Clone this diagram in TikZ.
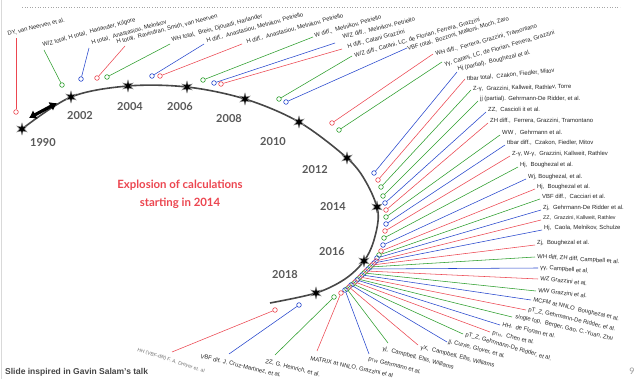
\documentclass[tikz,border=0pt]{standalone}
\usepackage{fontspec}
\setmainfont{Liberation Sans}
\newfontfamily\latofont{Lato}
\usetikzlibrary{shapes.geometric,arrows.meta}

\definecolor{calcred}{RGB}{236,70,80}
\definecolor{calcgreen}{RGB}{44,158,44}
\definecolor{calcblue}{RGB}{38,70,205}

% one calculation: name, colour, ring, line end, label, angle, text
\newcommand{\calcleg}[7]{%
  \node[ring, draw=#2] (#1c) at (#3) {};
  \coordinate (#1e) at (#4);
  \node[calclabel, rotate=#6] (#1t) at (#5) {#7};
  \draw[#2, leg] (#1c) -- (#1e);
}

\begin{document}
\begin{tikzpicture}[x=1pt,y=-1pt]
\tikzstyle{ring}=[circle, inner sep=0pt, minimum size=4.6pt, line width=0.6pt]
\tikzstyle{calclabel}=[anchor=base west, inner sep=0pt, font=\fontsize{5.9}{7}\selectfont, text=black!85]
\tikzstyle{leg}=[line width=0.55pt]
\tikzstyle{yr}=[font=\latofont\bfseries\fontsize{11}{13}\selectfont, text=black!65]
\tikzstyle{yrstar}=[star, star points=6, star point ratio=2.6, fill=black, draw=black!45, line width=0.4pt, inner sep=0pt, minimum size=12pt]
\useasboundingbox (0,0) rectangle (638,379);
\fill[white] (0,0) rectangle (638,379);
\draw[black!15, line width=1pt] (1.5,0) -- (1.5,379);
\draw[black!35, dotted, line width=0.6pt] (22,7) -- (620,7);

% the time line
\draw[black!72, line width=1.6pt] plot[smooth, tension=0.55] coordinates {(22,129) (71,97) (128,86) (187,87) (245,99) (299,122) (347,158) (366,182) (378,212) (374,240) (364,261) (345,279) (316,293) (270,303)};
\coordinate (arrA) at (29,118);
\coordinate (arrB) at (57,103);
\draw[line width=3.2pt, {Latex[length=7pt,width=10pt]}-{Latex[length=7pt,width=10pt]}] (arrA) -- (arrB);

\node[yrstar] (s1990) at (22,129) {};
\node[yrstar] (s2002) at (71,97) {};
\node[yrstar] (s2004) at (128,86) {};
\node[yrstar] (s2006) at (187,87) {};
\node[yrstar] (s2008) at (245,99) {};
\node[yrstar] (s2010) at (299,122) {};
\node[yrstar] (s2012) at (347,158) {};
\node[yrstar] (s2014) at (377,207) {};
\node[yrstar] (s2016) at (364,261) {};
\node[yrstar] (s2018) at (316,293) {};

\node[yr] (y1990) at (43,143) {1990};
\node[yr] (y2002) at (80,116) {2002};
\node[yr] (y2004) at (130,107) {2004};
\node[yr] (y2006) at (180,107) {2006};
\node[yr] (y2008) at (229,119) {2008};
\node[yr] (y2010) at (273,142) {2010};
\node[yr] (y2012) at (315,170) {2012};
\node[yr] (y2014) at (333,207) {2014};
\node[yr] (y2016) at (332,252) {2016};
\node[yr] (y2018) at (285,275) {2018};

\node[align=center, text=calcred, font=\latofont\bfseries\fontsize{11.4}{18}\selectfont] (boom) at (180,194) {Explosion of calculations\\starting in 2014};

% top
\calcleg{dy}{calcred}{16,112}{16,38}{8,36}{14}{DY, van Neerven et al.}
\calcleg{wzt}{calcgreen}{62,85}{44,50}{43,47}{15.5}{W/Z total, H total,\ \ Harlander, Kilgore}
\calcleg{hta}{calcblue}{81,79}{89,48}{92,45}{16}{H total,\ \ Anastasiou, Melnikov}
\calcleg{htr}{calcred}{97,78}{125,46}{117,44}{14.5}{H total,\ \ Ravindran, Smith, van Neerven}
\calcleg{wht}{calcgreen}{107,77}{170,44}{172,42}{15}{WH total,\ \ Brein, Djouadi, Harlander}
\calcleg{hda}{calcblue}{152,76}{204,44}{207,43}{15.5}{H diff.,\ \ Anastasiou, Melnikov, Petriello}
\calcleg{hdb}{calcred}{160,76}{242,44}{247,44}{15.5}{H diff.,\ \ Anastasiou, Melnikov, Petriello}
\calcleg{wd}{calcgreen}{203,80}{313,37}{315,37.5}{15.5}{W diff.,\ \ Melnikov, Petriello}
\calcleg{wzd}{calcblue}{214,83}{335,43}{343,39}{14}{W/Z diff.,\ \ Melnikov, Petriello}
\calcleg{hdc}{calcred}{221,84}{342,49}{348,48.5}{15}{H diff., Catani Grazzini}
\calcleg{wzc}{calcgreen}{279,99}{352,56}{355,57.5}{16}{W/Z diff., Catani, LC, de Florian, Ferrera, Grazzini}
\calcleg{vbft}{calcblue}{286,102}{407,48}{408,51}{17}{VBF total,\ \ Bozzoni, Maltoni, Moch, Zaro}
\calcleg{whd}{calcred}{332,123}{433,54}{436,56}{15.5}{WH diff.,\ \ Ferrera, Grazzini, Tramontano}
\calcleg{gga}{calcgreen}{339,130}{442,62}{445,66}{16}{γγ, Catani, LC, de Florian, Ferrera, Grazzini}
\calcleg{hjp}{calcblue}{374,173}{457,72}{458,71}{13}{Hj (partial),\ \ Boughezal et al.}
\calcleg{ttt}{calcred}{378,180}{465,79}{467,81}{5.5}{ttbar total,\ \ Czakon, Fiedler, Mitov}
\calcleg{zga}{calcgreen}{381,187}{471,90}{473,91}{1.5}{Z-γ,\ \ Grazzini, Kallweit, Rathlev, Torre}

% right
\calcleg{jjp}{calcgreen}{383,196}{478,101}{480,101}{0}{jj (partial). Gehrmann-De Ridder, et al.}
\calcleg{zzc}{calcblue}{385,203}{486,112}{488,112}{0}{ZZ,\ \ Cascioli it et al.}
\calcleg{zhd}{calcred}{386,210}{488,123}{490,123}{0}{ZH diff.,\ \ Ferrera, Grazzini, Tramontano}
\calcleg{wwg}{calcgreen}{386,217}{500,135}{502,135}{0}{WW ,\ \ Gehrmann et al.}
\calcleg{ttd}{calcblue}{386,224}{505,145}{507,145}{0}{ttbar diff.,\ \ Czakon, Fiedler, Mitov}
\calcleg{zwg}{calcred}{385,231}{510,156}{512,156}{0}{Z-γ, W-γ,\ \ Grazzini, Kallweit, Rathlev}
\calcleg{hja}{calcgreen}{384,238}{518,167}{520,167}{0}{Hj,\ \ Boughezal et al.}
\calcleg{wjb}{calcblue}{383,245}{526,179}{528,179}{0}{Wj, Boughezal, et al.}
\calcleg{hjb}{calcred}{381,251}{535,189}{537,189}{0}{Hj,\ \ Boughezal et al.}
\calcleg{vbfd}{calcgreen}{379,255}{540,199}{542,199}{0}{VBF diff.,\ \ Cacciari et al.}
\calcleg{zja}{calcblue}{377,258}{541,210}{543,210}{0}{Zj,\ \ Gehrmann-De Ridder et al.}
\calcleg{zzg}{calcred}{376,261}{541,220}{543,220}{0}{\fontsize{5.3}{6}\selectfont ZZ,\ \ Grazzini, Kallweit, Rathlev}
\calcleg{hjc}{calcblue}{374,263}{542,230}{544,230}{0}{Hj,\ \ Caola, Melnikov, Schulze}
\calcleg{zjb}{calcred}{372,265}{535,245}{537,245}{0}{Zj,\ \ Boughezal et al.}
\calcleg{vhd}{calcgreen}{370,267}{535,257}{537,258}{-4}{WH diff, ZH diff, Campbell et al.}
\calcleg{ggb}{calcblue}{368,269}{538,268}{540,269}{-5}{γγ, Campbell et al.}
\calcleg{wzg}{calcred}{366,271}{538,279}{540,280}{-7}{WZ Grazzini et al.}
\calcleg{wwz}{calcgreen}{364,273}{536,291}{538,292}{-7}{WW Grazzini et al.}
\calcleg{mcfm}{calcblue}{362,275}{531,300}{533,301}{-13}{MCFM at NNLO\ \ Boughezal et al.}
\calcleg{ptza}{calcred}{360,277}{526,310}{528,311}{-13}{pT\_Z, Gehrmann-De Ridder, et al.}
\calcleg{stop}{calcgreen}{358,279}{512,317}{515,318}{-13}{single top,\ \ Berger, Gao, C.-Yuan, Zhu}
\calcleg{hhf}{calcblue}{357,280}{500,325}{502,326}{-13}{HH,\ \ de Florian et al.}
\calcleg{pth}{calcred}{355,282}{490,332}{492,334}{-14}{p\textsubscript{TH},\ \ Chen et al.}
\calcleg{ptzb}{calcgreen}{353,284}{463,334}{465,336}{-16}{pT\_Z, Gehrmann-De Ridder, et al.}
\calcleg{jjc}{calcblue}{351,285}{447,342}{448,343}{-15}{jj, Currie, Glover, et al.}
\calcleg{gx}{calcred}{349,287}{418,345}{420,349}{-14}{γX,\ \ Campbell, Ellis, Williams}

% bottom
\calcleg{gj}{calcgreen}{347,289}{388,343}{382,350}{-15}{γj,\ \ Campbell, Ellis, Williams}
\calcleg{ptw}{calcblue}{345,290}{369,354}{368,360}{-15}{p\textsubscript{TW} Gehrmann et al.}
\calcleg{mtx}{calcred}{341,293}{317,351}{310,360}{-12}{MATRIX at NNLO, Grazzini et al}
\calcleg{zzh}{calcgreen}{334,297}{275,355}{265,363}{-14}{ZZ, G. Heinrich, et al.}
\calcleg{vbfc}{calcblue}{299,305}{229,354}{200,358}{-13.5}{VBF dif. J. Cruz-Martinez, et al.}
\calcleg{hhv}{calcred}{275,310}{172,352}{137,351}{-18}{\fontsize{5}{6}\selectfont\color{black!55}HH (VBF-diff) F. A. Dreyer et. al}

\node[anchor=base west, inner sep=0pt, text=black!72, font=\bfseries\fontsize{8.5}{10}\selectfont] (credit) at (5,375) {Slide inspired in Gavin Salam’s talk};
\node[text=black!40, font=\latofont\fontsize{9}{10}\selectfont] (page) at (632,371) {9};
\end{tikzpicture}
\end{document}
